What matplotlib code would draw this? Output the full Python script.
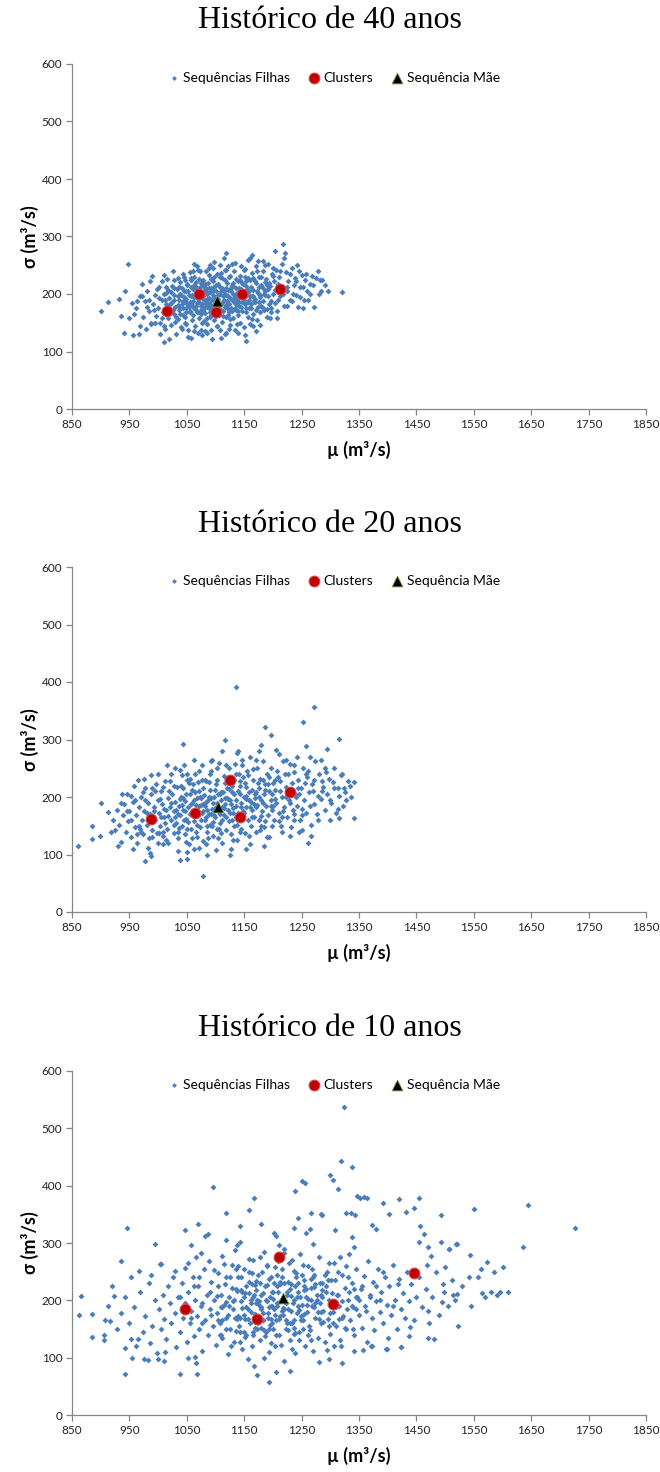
import numpy as np
import matplotlib
matplotlib.use("Agg")
from matplotlib import pyplot as plt

titles = ["Histórico de 40 anos", "Histórico de 20 anos", "Histórico de 10 anos"]
legend_labels = ["Sequências Filhas", "Clusters", "Sequência Mãe"]
x_ticks = [850, 950, 1050, 1150, 1250, 1350, 1450, 1550, 1650, 1750, 1850]
y_ticks = [0, 100, 200, 300, 400, 500, 600]

# (mu, sigma)
filhas_40 = [
    (901, 171), (912, 186), (948, 252), (1320, 203), (1217, 287), (1118, 271), (1010, 117), (1153, 119),
    (935, 162), (941, 133), (956, 129), (967, 131), (932, 191), (943, 206), (955, 184), (950, 158),
    (972, 217), (969, 145), (988, 147), (1282, 224), (1283, 206), (1268, 232), (1251, 233), (1271, 177),
    (1253, 176), (1243, 177), (1221, 271), (1220, 262), (1204, 275), (1200, 246), (1183, 257), (1164, 268),
    (1207, 159), (1189, 174), (1234, 188), (1019, 121), (1052, 126), (1070, 133), (1081, 135), (1118, 133),
    (1152, 129), (1171, 136), (1178, 146), (1123, 139), (1098, 256), (1083, 240), (1067, 248), (1060, 240),
    (1091, 250), (1118, 242), (1134, 254), (1145, 249), (1156, 259), (1160, 263), (1010, 233), (1027, 224),
    (1045, 230),
    (962, 175), (968, 196), (973, 160), (977, 187), (981, 205), (984, 170), (988, 150), (986, 222),
    (979, 140), (991, 183), (994, 198), (996, 162),
    (1000, 176), (1002, 212), (1004, 150), (1006, 190), (1008, 168), (1010, 200), (1012, 139), (1013, 182),
    (1015, 226), (1017, 158), (1019, 193), (1020, 172), (1003, 131), (1018, 207),
    (1022, 146), (1024, 186), (1025, 214), (1027, 166), (1028, 198), (1030, 178), (1031, 130), (1033, 208),
    (1034, 157), (1036, 190), (1037, 172), (1039, 221), (1040, 143), (1038, 200),
    (1042, 182), (1043, 163), (1045, 205), (1046, 150), (1048, 192), (1049, 175), (1051, 216), (1052, 138),
    (1053, 198), (1055, 168), (1056, 186), (1058, 228), (1059, 155), (1060, 209), (1044, 234), (1057, 124),
    (1062, 176), (1063, 194), (1064, 145), (1066, 212), (1067, 168), (1068, 184), (1070, 201), (1071, 158),
    (1072, 226), (1074, 180), (1075, 138), (1076, 195), (1078, 172), (1079, 214), (1080, 153), (1069, 241),
    (1077, 128),
    (1081, 188), (1082, 167), (1084, 205), (1085, 178), (1086, 148), (1087, 220), (1088, 193), (1090, 160),
    (1091, 183), (1092, 210), (1093, 137), (1095, 198), (1096, 172), (1097, 230), (1098, 155), (1099, 188),
    (1089, 245), (1094, 122),
    (1101, 206), (1102, 176), (1103, 145), (1104, 218), (1105, 192), (1106, 163), (1108, 200), (1109, 182),
    (1110, 236), (1111, 152), (1112, 211), (1113, 170), (1114, 190), (1116, 131), (1117, 224), (1118, 198),
    (1119, 160), (1107, 250), (1115, 262),
    (1121, 184), (1122, 207), (1123, 168), (1124, 229), (1125, 146), (1126, 193), (1127, 176), (1128, 215),
    (1130, 158), (1131, 200), (1132, 186), (1133, 240), (1134, 137), (1135, 172), (1136, 210), (1138, 191),
    (1139, 223), (1140, 163),
    (1141, 180), (1142, 232), (1143, 150), (1145, 205), (1146, 186), (1147, 170), (1148, 218), (1150, 143),
    (1151, 196), (1152, 244), (1153, 176), (1155, 209), (1156, 160), (1157, 228), (1158, 190), (1160, 148),
    (1161, 213), (1162, 176), (1164, 236), (1165, 196), (1166, 165), (1168, 222), (1169, 186), (1170, 249),
    (1172, 155), (1173, 205), (1174, 178), (1176, 230), (1177, 194), (1178, 168), (1180, 215),
    (1182, 188), (1183, 240), (1185, 172), (1186, 206), (1188, 226), (1189, 160), (1191, 196), (1192, 252),
    (1194, 182), (1195, 214), (1197, 168), (1198, 235), (1200, 200),
    (1202, 222), (1204, 185), (1206, 242), (1208, 170), (1210, 230), (1213, 196), (1215, 252), (1217, 212),
    (1219, 180), (1222, 238), (1224, 205), (1227, 222), (1230, 190), (1233, 246), (1236, 215), (1238, 228),
    (1240, 198), (1245, 240), (1248, 212), (1256, 224), (1260, 205), (1264, 218), (1275, 228), (1290, 216),
    (1262, 190),
]
# dense centre of the 40-year cloud
filhas_40_core = [
    (1047, 187), (1093, 171), (1131, 214), (1059, 199), (1162, 183), (1018, 177), (1107, 229), (1085, 158),
    (1143, 196), (1066, 221), (1122, 163), (1174, 201), (1038, 165), (1097, 213), (1153, 168), (1079, 192),
    (1111, 185), (1028, 189), (1183, 211), (1064, 174), (1136, 226), (1052, 206), (1101, 162), (1168, 192),
    (1089, 233), (1117, 177), (1041, 211), (1148, 203), (1074, 165), (1129, 190), (1193, 219), (1058, 183),
    (1104, 199), (1160, 224), (1034, 181), (1083, 210), (1139, 170), (1071, 186), (1116, 241), (1176, 186),
    (1049, 168), (1095, 205), (1154, 214), (1023, 203), (1126, 157), (1062, 230), (1109, 173), (1187, 198),
    (1078, 197), (1135, 182), (1045, 194), (1099, 181), (1171, 172), (1057, 213), (1120, 220), (1088, 176),
    (1149, 189), (1031, 160), (1068, 205), (1113, 196), (1203, 207), (1081, 217), (1142, 225), (1054, 178),
    (1127, 205), (1092, 189), (1166, 207), (1036, 213), (1075, 172), (1106, 185), (1158, 176), (1061, 163),
    (1133, 193), (1096, 222), (1180, 230), (1044, 176), (1119, 211), (1086, 200), (1151, 230), (1069, 192),
    (1124, 182), (1012, 190), (1102, 234), (1145, 177), (1057, 196), (1163, 197), (1090, 168), (1137, 202),
    (1073, 213), (1115, 205), (1196, 188), (1050, 218), (1098, 194), (1171, 220), (1083, 184), (1129, 170),
    (1040, 198), (1108, 213), (1155, 199), (1066, 179), (1120, 188), (1079, 225), (1141, 211), (1026, 172),
    (1094, 178), (1182, 176), (1061, 188), (1113, 161), (1147, 219), (1072, 201), (1126, 231), (1088, 211),
    (1167, 187), (1048, 205), (1101, 191), (1134, 175), (1055, 171), (1117, 200), (1209, 218), (1076, 182),
    (1159, 206), (1092, 226), (1035, 196), (1139, 188), (1063, 215), (1110, 206), (1175, 212), (1085, 191),
    (1122, 196), (1043, 187), (1151, 182), (1097, 187), (1069, 169), (1131, 220), (1186, 221), (1080, 206),
    (1014, 212), (1106, 169), (1144, 208), (1058, 225), (1118, 181), (1090, 203), (1160, 196), (1051, 183),
    (1128, 213), (1074, 220), (1100, 216), (1166, 228), (1037, 178), (1112, 227), (1148, 196), (1066, 197),
    (1135, 199), (1093, 164), (1178, 198), (1046, 224), (1121, 174), (1082, 177), (1154, 222), (1027, 210),
    (1104, 178), (1140, 184), (1071, 207), (1191, 208), (1087, 184), (1125, 208), (1060, 179), (1157, 186),
]
# ring around the centre of the 40-year cloud
filhas_40_ring = [
    (993, 172), (1001, 193), (1007, 158), (1014, 201), (1021, 183), (1029, 152), (1035, 228), (1042, 140),
    (998, 209), (1011, 145), (985, 190), (1026, 240), (1049, 147), (1055, 238), (1063, 136), (1073, 240),
    (1085, 132), (1096, 245), (1108, 138), (1121, 248), (1137, 148), (1149, 242), (1163, 156), (1172, 240),
    (1179, 180), (1184, 200), (1190, 215), (1196, 176), (1201, 232), (1209, 190), (1213, 240), (1218, 200),
    (1225, 212), (1229, 235), (1235, 200), (1241, 222), (1247, 195), (1252, 212), (1258, 235), (1265, 200),
    (1270, 215), (1278, 240), (1286, 225), (1296, 205), (1242, 250), (1186, 250), (1174, 258), (1128, 252),
    (1102, 144), (1076, 150), (1046, 160), (1034, 210), (1017, 165), (1006, 222), (995, 150), (980, 178),
    (972, 196), (963, 188), (958, 165), (990, 232), (1063, 252), (1110, 124), (1140, 132), (1166, 145),
    (1195, 158), (1225, 180), (1255, 190), (1280, 200),
]
clusters_40 = [(1015, 170), (1071, 200), (1100, 169), (1146, 200), (1212, 208)]
mae_40 = [(1103, 188)]

filhas_20 = [
    (861, 115), (1135, 391), (1272, 357), (1252, 330), (1315, 301), (1079, 63), (1341, 226), (1341, 164),
    (1315, 164), (1326, 209), (1316, 201), (1295, 284), (1186, 321), (1196, 307), (1116, 300), (1044, 293),
    (900, 190), (885, 150), (885, 127), (899, 133), (912, 174), (937, 206), (953, 201), (977, 89),
    (1038, 90), (1051, 92), (1086, 99), (1125, 99), (1127, 110), (957, 109), (986, 103), (988, 97),
    (1009, 118), (1153, 110), (1184, 115), (1230, 133), (1250, 143), (1266, 133), (1279, 201), (1285, 227),
    (1257, 289), (1242, 269), (1222, 264), (1236, 244), (1205, 282), (1180, 290), (975, 231), (987, 238),
    (1045, 256), (1094, 265), (1112, 280), (1138, 277), (1304, 226), (1292, 243), (1324, 215),
    (921, 160), (925, 142), (928, 178), (932, 152), (935, 121), (938, 168), (941, 187), (944, 140),
    (947, 158), (950, 175), (953, 130), (956, 192), (959, 148), (930, 115), (945, 205),
    (962, 168), (964, 120), (966, 183), (968, 145), (970, 200), (972, 160), (974, 135), (976, 176),
    (978, 215), (980, 152), (982, 190), (984, 128), (986, 170), (988, 205), (990, 143), (992, 182),
    (994, 160), (996, 222), (998, 137), (999, 195), (965, 230), (983, 112),
    (1001, 172), (1003, 150), (1005, 210), (1006, 188), (1008, 132), (1010, 165), (1012, 228), (1013, 178),
    (1015, 145), (1017, 198), (1018, 120), (1020, 183), (1022, 160), (1023, 240), (1025, 205), (1027, 138),
    (1028, 175), (1030, 192), (1031, 155), (1033, 218), (1035, 128), (1036, 185), (1038, 168), (1039, 247),
    (1040, 200), (1016, 256), (1034, 106),
    (1041, 150), (1043, 178), (1044, 215), (1046, 135), (1047, 193), (1049, 162), (1050, 230), (1052, 183),
    (1053, 118), (1055, 206), (1056, 170), (1058, 145), (1059, 190), (1061, 222), (1062, 158), (1064, 177),
    (1065, 240), (1067, 130), (1068, 198), (1070, 168), (1071, 210), (1073, 148), (1074, 186), (1076, 255),
    (1077, 172), (1079, 123), (1080, 203),
    (1081, 160), (1082, 185), (1084, 228), (1085, 140), (1087, 195), (1088, 170), (1090, 212), (1091, 152),
    (1093, 246), (1094, 180), (1096, 132), (1097, 200), (1099, 165), (1100, 222), (1102, 145), (1103, 190),
    (1105, 175), (1106, 260), (1108, 155), (1109, 208), (1111, 182), (1112, 120), (1114, 236), (1115, 168),
    (1117, 198), (1118, 143), (1120, 215),
    (1121, 178), (1123, 250), (1124, 158), (1126, 195), (1127, 135), (1129, 220), (1130, 172), (1132, 205),
    (1133, 150), (1135, 240), (1136, 185), (1138, 125), (1139, 210), (1141, 165), (1142, 228), (1144, 190),
    (1145, 145), (1147, 255), (1148, 176), (1150, 200), (1151, 138), (1153, 218), (1154, 182), (1156, 160),
    (1157, 238), (1159, 195), (1160, 270),
    (1161, 150), (1163, 212), (1164, 178), (1166, 230), (1167, 165), (1169, 198), (1170, 140), (1172, 250),
    (1173, 186), (1175, 215), (1176, 160), (1178, 232), (1179, 195), (1181, 175), (1182, 262), (1184, 205),
    (1185, 148), (1187, 222), (1188, 185), (1190, 240), (1191, 168), (1193, 210), (1194, 130), (1196, 195),
    (1197, 250), (1199, 178), (1200, 225),
    (1202, 160), (1204, 212), (1206, 190), (1208, 245), (1210, 172), (1212, 228), (1214, 150), (1216, 200),
    (1218, 262), (1220, 182), (1222, 218), (1224, 165), (1226, 240), (1228, 195), (1231, 148), (1233, 225),
    (1235, 178), (1237, 255), (1239, 205),
    (1242, 185), (1244, 230), (1247, 160), (1249, 215), (1252, 250), (1255, 195), (1258, 172), (1260, 235),
    (1263, 208), (1266, 152), (1268, 222), (1271, 188), (1274, 262), (1277, 170), (1280, 240), (1283, 196),
    (1287, 218), (1290, 178), (1294, 205), (1298, 232), (1262, 120),
    (1302, 190), (1306, 250), (1310, 172), (1313, 215), (1318, 238), (1322, 185), (1330, 228), (1336, 200),
]
filhas_20_core = [
    (1047, 175), (1093, 198), (1131, 181), (1059, 213), (1162, 192), (1018, 167), (1107, 205), (1085, 149),
    (1143, 220), (1066, 186), (1122, 196), (1174, 225), (1038, 197), (1097, 168), (1153, 202), (1079, 215),
    (1111, 160), (1028, 152), (1183, 190), (1064, 208), (1136, 165), (1052, 156), (1101, 183), (1168, 205),
    (1089, 226), (1117, 187), (1041, 186), (1148, 235), (1074, 160), (1129, 209), (1193, 235), (1058, 172),
    (1104, 205), (1160, 182), (1034, 170), (1083, 192), (1139, 173), (1071, 184), (1116, 224), (1176, 200),
    (1049, 205), (1095, 157), (1154, 197), (1023, 190), (1126, 172), (1062, 195), (1109, 194), (1187, 213),
    (1078, 176), (1135, 195), (1045, 160), (1099, 213), (1171, 183), (1057, 188), (1120, 232), (1088, 200),
    (1149, 172), (1031, 178), (1068, 152), (1113, 208), (1203, 196), (1081, 230), (1142, 205), (1054, 225),
    (1127, 188), (1092, 170), (1166, 248), (1036, 146), (1075, 198), (1106, 145), (1158, 209), (1061, 170),
    (1133, 230), (1096, 190), (1180, 167), (1044, 198), (1119, 165), (1086, 178), (1151, 225), (1069, 226),
    (1124, 214), (1012, 155), (1102, 230), (1145, 183), (1003, 197), (1163, 166), (1090, 240), (1137, 152),
    (1073, 200), (1115, 181), (1196, 185), (1050, 144), (1098, 177), (1171, 208), (1083, 165), (1129, 160),
    (1040, 220), (1108, 170), (1155, 245), (1066, 140), (1120, 198), (1079, 188), (1141, 240), (993, 175),
    (1094, 150), (1182, 230), (1213, 210), (1230, 190), (1245, 205), (1221, 240), (1210, 158), (1256, 225),
    (1237, 170), (1198, 205), (1186, 158), (1226, 212), (1250, 180), (1204, 230), (1217, 175), (1241, 200),
    (1270, 210), (1262, 245), (1019, 210), (1005, 165), (977, 195), (971, 140), (990, 215), (1009, 140),
    (1027, 220), (1051, 240), (1077, 230), (1103, 250), (1134, 258), (1011, 180), (1167, 188), (1110, 138),
    (1143, 140), (1087, 128), (1059, 128), (1178, 142), (1199, 150), (1072, 112),
]
filhas_20_ring = [
    (945, 175), (952, 160), (960, 195), (967, 150), (973, 208), (981, 172), (989, 130), (995, 210),
    (1002, 138), (1008, 218), (1014, 125), (1021, 228), (1029, 165), (1035, 140), (1042, 238), (1048, 122),
    (1056, 232), (1063, 110), (1072, 245), (1083, 118), (1092, 262), (1104, 128), (1118, 255), (1131, 125),
    (1146, 265), (1158, 132), (1171, 265), (1180, 150), (1192, 222), (1201, 185), (1209, 235), (1215, 165),
    (1223, 200), (1229, 258), (1236, 160), (1243, 215), (1251, 168), (1257, 240), (1265, 185), (1272, 230),
    (1279, 160), (1285, 210), (1291, 250), (1299, 195), (1307, 215), (1313, 180), (1321, 240), (1327, 195),
    (1334, 220), (1245, 140), (1265, 270), (1210, 275), (1190, 130), (1160, 118), (1100, 108), (1050, 105),
    (1000, 120), (963, 135), (935, 190), (918, 140), (958, 220), (1000, 240), (1030, 250), (1062, 265),
    (1140, 280), (1175, 280), (1215, 140), (1283, 265), (1300, 160),
]
clusters_20 = [(987, 162), (1064, 172), (1125, 230), (1143, 166), (1230, 209)]
mae_20 = [(1104, 183)]

filhas_10 = [
    (863, 174), (866, 208), (884, 136), (885, 177), (905, 140), (905, 131), (907, 166), (916, 164),
    (923, 208), (936, 268), (943, 72), (943, 116), (952, 240), (952, 132), (965, 132), (967, 252),
    (982, 96), (986, 125), (1000, 97), (1010, 94), (1005, 263), (1039, 71), (1068, 71), (1052, 100),
    (1066, 91), (1167, 86), (1173, 69), (1194, 58), (1205, 75), (1230, 77), (1219, 94), (1280, 93),
    (1297, 98), (1320, 90), (1295, 113), (1319, 121), (1342, 112), (1357, 114), (1371, 120), (1397, 115),
    (1423, 118), (1437, 137), (1470, 135), (1481, 133), (1523, 156), (1521, 211), (1500, 258), (1496, 229),
    (1495, 197), (1470, 182), (1468, 262), (1438, 154),
    (1645, 366), (1726, 326), (1636, 293), (1601, 258), (1596, 214), (1591, 210), (1580, 214), (1565, 212),
    (1573, 266), (1562, 255), (1543, 279), (1541, 241), (1550, 359), (1513, 209), (1519, 298), (1506, 289),
    (1492, 348), (1455, 378), (1456, 330), (1446, 361), (1432, 354), (1420, 377), (1403, 351), (1392, 369),
    (1346, 382), (1352, 379), (1327, 352), (1336, 352), (1343, 348), (1314, 394), (1372, 331), (1379, 324),
    (1424, 119), (1399, 115), (1372, 120),
    (1323, 538), (1318, 443), (1337, 432), (1300, 419), (1304, 410), (1251, 409), (1256, 404), (1238, 391),
    (1096, 397), (1167, 378), (1158, 357), (1118, 352), (1243, 344), (1267, 352), (1285, 348), (1358, 380),
    (1364, 379), (945, 327), (994, 298), (987, 245), (1004, 264), (1046, 322), (1069, 334), (1082, 313),
    (1087, 315), (1047, 257), (1052, 265), (1057, 296), (1066, 276), (1074, 282), (1098, 253), (1111, 277),
    (1118, 306), (1115, 264), (1134, 287), (1142, 329), (1137, 297), (1143, 301), (1180, 334), (1205, 313),
    (1202, 317), (1237, 326), (1257, 317), (1265, 324), (1270, 298), (1283, 350), (1308, 323), (1337, 310),
    (1341, 293), (1520, 299), (1463, 315), (1455, 301), (1471, 293), (1476, 278), (1507, 289), (1493, 302),
    (1002, 185), (1005, 150), (1008, 210), (1011, 168), (1014, 132), (1017, 225), (1020, 195), (1023, 160),
    (1026, 240), (1029, 178), (1032, 118), (1035, 205), (1038, 145), (1041, 230), (1044, 170), (1047, 195),
    (1050, 128), (1012, 110), (1030, 252),
    (1052, 215), (1055, 160), (1057, 182), (1060, 240), (1062, 138), (1065, 200), (1067, 172), (1070, 225),
    (1072, 150), (1075, 190), (1077, 112), (1080, 255), (1082, 165), (1085, 210), (1087, 140), (1090, 185),
    (1092, 232), (1095, 155), (1097, 200), (1100, 122), (1064, 102), (1088, 268),
    (1102, 178), (1104, 248), (1107, 160), (1109, 210), (1111, 135), (1114, 192), (1116, 228), (1118, 170),
    (1121, 106), (1123, 205), (1125, 150), (1128, 262), (1130, 185), (1132, 128), (1135, 220), (1137, 168),
    (1139, 240), (1142, 145), (1144, 198), (1146, 115), (1149, 175), (1150, 255),
    (1152, 212), (1154, 140), (1156, 185), (1158, 232), (1160, 160), (1162, 200), (1164, 120), (1166, 270),
    (1168, 176), (1170, 218), (1172, 150), (1174, 245), (1176, 192), (1178, 130), (1180, 210), (1182, 165),
    (1184, 285), (1186, 225), (1188, 145), (1190, 198), (1192, 178), (1194, 110), (1196, 240), (1198, 160),
    (1200, 215), (1157, 98), (1185, 100),
    (1202, 185), (1204, 258), (1206, 140), (1208, 225), (1210, 168), (1212, 198), (1214, 122), (1216, 240),
    (1218, 175), (1220, 290), (1222, 150), (1224, 210), (1226, 185), (1228, 265), (1230, 130), (1232, 228),
    (1234, 160), (1236, 200), (1238, 108), (1240, 248), (1242, 178), (1244, 215), (1246, 145), (1248, 280),
    (1250, 192), (1213, 232), (1237, 142),
    (1252, 165), (1254, 235), (1256, 120), (1258, 205), (1260, 180), (1262, 260), (1264, 148), (1266, 222),
    (1268, 190), (1270, 112), (1272, 245), (1274, 170), (1276, 210), (1278, 135), (1280, 275), (1282, 195),
    (1284, 160), (1286, 230), (1288, 182), (1290, 128), (1292, 215), (1294, 250), (1296, 168), (1298, 200),
    (1300, 142),
    (1302, 235), (1305, 180), (1307, 265), (1310, 155), (1312, 210), (1315, 190), (1317, 130), (1320, 245),
    (1322, 172), (1325, 222), (1327, 150), (1330, 200), (1332, 280), (1335, 165), (1337, 230), (1340, 188),
    (1342, 140), (1345, 255), (1347, 205), (1350, 175),
    (1353, 220), (1356, 152), (1358, 242), (1361, 190), (1364, 128), (1366, 268), (1369, 205), (1372, 170),
    (1375, 232), (1377, 148), (1380, 198), (1383, 255), (1386, 180), (1389, 215), (1392, 160), (1395, 240),
    (1398, 192), (1400, 135),
    (1403, 225), (1406, 175), (1410, 262), (1413, 200), (1416, 150), (1420, 238), (1423, 185), (1427, 212),
    (1430, 170), (1434, 250), (1437, 198), (1441, 228), (1445, 165), (1449, 205),
    (1455, 240), (1460, 188), (1466, 220), (1472, 160), (1478, 205), (1485, 250), (1490, 175), (1498, 215),
    (1505, 190), (1512, 235), (1518, 200), (1530, 225), (1545, 190), (1558, 240), (1570, 205), (1585, 250),
    (1610, 215),
    (912, 190), (920, 225), (928, 150), (935, 178), (942, 205), (950, 160), (958, 188), (962, 120),
    (968, 215), (973, 145), (978, 172), (984, 230), (990, 155), (995, 200), (998, 108), (955, 100),
    (975, 98),
]
filhas_10_core = [
    (1105, 225), (1112, 188), (1119, 150), (1126, 240), (1133, 200), (1140, 172), (1147, 215), (1153, 188),
    (1159, 250), (1165, 145), (1171, 195), (1177, 230), (1183, 178), (1189, 262), (1195, 205), (1201, 150),
    (1207, 195), (1213, 172), (1219, 230), (1225, 160), (1231, 208), (1237, 252), (1243, 190), (1249, 165),
    (1255, 218), (1261, 140), (1267, 200), (1273, 228), (1279, 180), (1285, 205), (1291, 245), (1297, 155),
    (1303, 212), (1309, 235), (1315, 168), (1321, 198), (1327, 260), (1333, 215), (1339, 150), (1345, 185),
    (1108, 140), (1122, 175), (1136, 255), (1151, 168), (1163, 228), (1179, 152), (1193, 188), (1209, 268),
    (1223, 195), (1239, 225), (1253, 150), (1269, 240), (1283, 210), (1299, 178), (1313, 250), (1329, 185),
    (1143, 128), (1197, 125), (1246, 130), (1306, 120),
    (1147, 187), (1193, 238), (1231, 181), (1159, 213), (1262, 202), (1118, 197), (1207, 245), (1185, 149),
    (1243, 230), (1166, 206), (1222, 166), (1274, 195), (1138, 217), (1197, 168), (1253, 262), (1179, 185),
    (1211, 140), (1128, 222), (1283, 180), (1164, 248), (1236, 165), (1152, 136), (1201, 203), (1268, 255),
    (1189, 226), (1217, 187), (1141, 156), (1248, 205), (1174, 160), (1229, 219), (1293, 225), (1158, 272),
    (1204, 175), (1260, 192), (1134, 170), (1183, 212), (1239, 143), (1171, 234), (1216, 254), (1276, 200),
    (1149, 205), (1195, 157), (1254, 177), (1123, 190), (1226, 232), (1162, 195), (1209, 214), (1287, 163),
    (1178, 276), (1235, 195), (1145, 240), (1199, 190), (1271, 223), (1157, 168), (1220, 282), (1188, 200),
    (1249, 172), (1131, 198), (1168, 152), (1213, 228), (1303, 196), (1181, 250), (1242, 205), (1154, 225),
    (1227, 148), (1192, 170), (1266, 238), (1136, 146), (1175, 198), (1206, 165), (1258, 219), (1161, 180),
    (1233, 270), (1196, 190), (1280, 167), (1144, 218), (1219, 185), (1186, 138), (1251, 245), (1169, 226),
    (1224, 214), (1112, 165), (1202, 230), (1245, 183), (1103, 207), (1263, 156), (1190, 260), (1237, 152),
    (1173, 200), (1215, 181), (1296, 235), (1150, 144), (1198, 215), (1271, 188), (1183, 165), (1229, 160),
    (1140, 260), (1208, 190), (1255, 225), (1166, 140), (1220, 198), (1179, 188), (1241, 240), (1093, 175),
    (1194, 150), (1282, 230), (1313, 210), (1330, 240), (1345, 205), (1321, 170), (1310, 188), (1356, 225),
    (1337, 190), (1298, 265), (1286, 218), (1326, 152), (1350, 200), (1304, 160), (1317, 275), (1341, 220),
    (1370, 210), (1362, 182), (1119, 240), (1105, 165), (1077, 195), (1071, 240), (1090, 215), (1109, 140),
    (1127, 120), (1051, 190), (1077, 160), (1203, 120), (1234, 115), (1267, 130), (1211, 296), (1167, 210),
    (1110, 188), (1143, 170), (1387, 200), (1392, 250), (1409, 190), (1380, 225), (1418, 228), (1063, 225),
    (1038, 205), (1058, 170),
]
clusters_10 = [(1047, 185), (1173, 168), (1210, 275), (1304, 193), (1446, 248)]
mae_10 = [(1218, 204)]

panels = [
    (titles[0], filhas_40 + filhas_40_core + filhas_40_ring, clusters_40, mae_40),
    (titles[1], filhas_20 + filhas_20_core + filhas_20_ring, clusters_20, mae_20),
    (titles[2], filhas_10 + filhas_10_core, clusters_10, mae_10),
]

sans = ["Lato", "DejaVu Sans"]
blue = "#4A7EBB"
grey = "#868686"

fig = plt.figure(figsize=(6.6, 14.72), dpi=100)

# plot area of each panel in pixels (top, bottom)
boxes = [(64, 409), (567, 912), (1071, 1415)]
H = 1472.0
left, right = 72 / 660, 646 / 660

for (title, filhas, clusters, mae), (top, bottom) in zip(panels, boxes):
    ax = fig.add_axes([left, 1 - bottom / H, right - left, (bottom - top) / H])

    f = np.array(filhas)
    c = np.array(clusters)
    m = np.array(mae)
    ax.scatter(f[:, 0], f[:, 1], s=9, marker="D", color=blue, linewidths=0,
               label=legend_labels[0], zorder=2)
    ax.scatter(c[:, 0], c[:, 1], s=60, marker="o", color="#C00000",
               edgecolors="#D24B4B", linewidths=0.8, label=legend_labels[1], zorder=3)
    ax.scatter(m[:, 0], m[:, 1], s=60, marker="^", color="black",
               edgecolors="#7A9A3A", linewidths=0.6, label=legend_labels[2], zorder=4)

    ax.set_xlim(850, 1850)
    ax.set_ylim(0, 600)
    ax.set_xticks(x_ticks)
    ax.set_yticks(y_ticks)
    for s in ["top", "right"]:
        ax.spines[s].set_visible(False)
    for s in ["left", "bottom"]:
        ax.spines[s].set_color(grey)
        ax.spines[s].set_linewidth(0.9)
    ax.tick_params(direction="out", length=4, width=0.9, color=grey, labelsize=8.5,
                   labelcolor="#222222", pad=3)
    for lab in ax.get_xticklabels() + ax.get_yticklabels():
        lab.set_family(sans)

    ax.set_xlabel("µ (m³/s)", fontsize=13, fontweight="bold", family=sans, labelpad=8)
    ax.set_ylabel("σ (m³/s)", fontsize=13, fontweight="bold", family=sans, labelpad=2)

    fig.text(0.5, 1 - (top - 43) / H, title, ha="center", va="center",
             fontsize=23, family="Liberation Serif")

    leg = ax.legend(loc="center", bbox_to_anchor=(334 / 660, 1 - (top + 14) / H),
                    bbox_transform=fig.transFigure, ncol=3, frameon=False,
                    prop={"family": sans, "size": 10}, handlelength=0.8,
                    handletextpad=0.3, columnspacing=1.3, borderpad=0)
    leg.legend_handles[0].set_sizes([6])

fig.savefig("out.png", dpi=100)
